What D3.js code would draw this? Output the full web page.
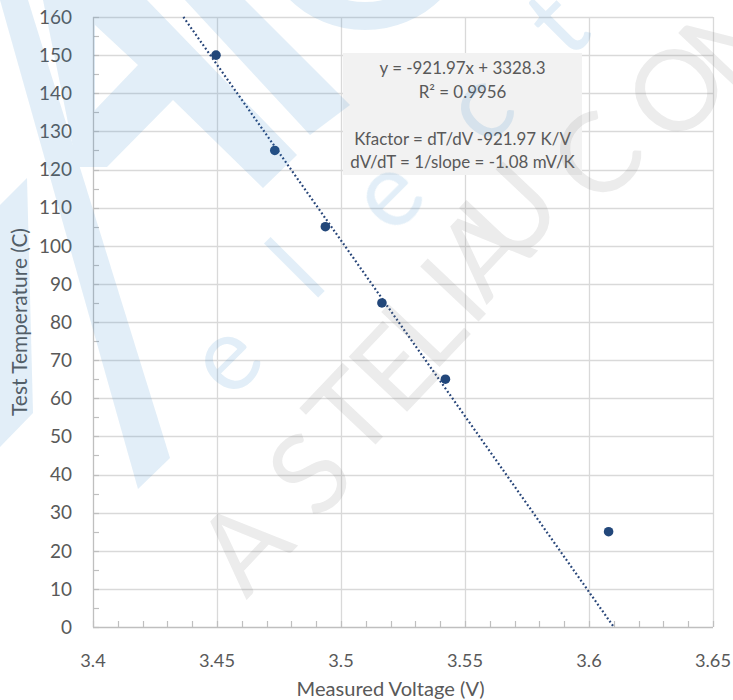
<!DOCTYPE html>
<html>
<head>
<meta charset="utf-8">
<script src="https://cdn.jsdelivr.net/npm/d3@7"></script>
<style>
  html, body { margin: 0; padding: 0; background: #fff; }
  svg { display: block; }
  text { font-family: Lato, "Open Sans", sans-serif; }
</style>
</head>
<body>
<script>
// ---------- data ----------
const voltage = [3.4496, 3.4733, 3.4937, 3.5165, 3.5421, 3.6079];
const temperature = [150, 125, 105, 85, 65, 25];
const trendSlope = -921.97;
const trendIntercept = 3328.3;
const xTicks = [3.4, 3.45, 3.5, 3.55, 3.6, 3.65];
const xTickLabels = ["3.4", "3.45", "3.5", "3.55", "3.6", "3.65"];
const yTicks = [0, 10, 20, 30, 40, 50, 60, 70, 80, 90, 100, 110, 120, 130, 140, 150, 160];
const annotationLines = ["y = -921.97x + 3328.3", "R\u00B2 = 0.9956", "", "Kfactor = dT/dV -921.97 K/V", "dV/dT = 1/slope = -1.08 mV/K"];
const xTitle = "Measured Voltage (V)";
const yTitle = "Test Temperature (C)";

// ---------- layout ----------
const W = 733, H = 700;
const M = { left: 93, right: 20, top: 17, bottom: 73 };
const iw = W - M.left - M.right, ih = H - M.top - M.bottom;

const svg = d3.select("body").append("svg").attr("width", W).attr("height", H);
const g = svg.append("g").attr("transform", `translate(${M.left},${M.top})`);

const x = d3.scaleLinear().domain([3.4, 3.65]).range([0, iw]);
const y = d3.scaleLinear().domain([0, 160]).range([ih, 0]);

const gridColor = "#d9d9d9", axisColor = "#bfbfbf", textColor = "#595959";

function fitSize(str, target, base) {
  const t = svg.append("text").attr("font-size", base).text(str);
  const w = t.node().getComputedTextLength();
  t.remove();
  return w > 0 ? base * target / w : base;
}
const yTickSize = fitSize("160", 33, 18);
const xTickSize = fitSize("3.45", 36, 18);
const xTitleSize = fitSize(xTitle, 188, 18);
const yTitleSize = fitSize(yTitle, 188, 18);
const boxSize = fitSize(annotationLines[0], 166, 16);

// gridlines
g.append("g").selectAll("line").data(yTicks.slice(1)).join("line")
  .attr("x1", 0).attr("x2", iw).attr("y1", d => Math.round(y(d)) + 0.5).attr("y2", d => Math.round(y(d)) + 0.5)
  .attr("stroke", gridColor).attr("stroke-width", 1.3);
g.append("g").selectAll("line").data(xTicks.slice(1)).join("line")
  .attr("y1", 0).attr("y2", ih).attr("x1", d => Math.round(x(d)) + 0.5).attr("x2", d => Math.round(x(d)) + 0.5)
  .attr("stroke", gridColor).attr("stroke-width", 1.3);

// minor ticks
const xMinor = d3.range(0, 26).map(i => 3.4 + i * 0.01);
const yMinor = d3.range(0, 33).map(i => i * 5);
g.append("g").selectAll("line").data(xMinor).join("line")
  .attr("x1", d => Math.round(x(d)) + 0.5).attr("x2", d => Math.round(x(d)) + 0.5)
  .attr("y1", ih).attr("y2", ih - 6).attr("stroke", axisColor).attr("stroke-width", 1.2);
g.append("g").selectAll("line").data(yMinor).join("line")
  .attr("y1", d => Math.round(y(d)) + 0.5).attr("y2", d => Math.round(y(d)) + 0.5)
  .attr("x1", 0).attr("x2", 6).attr("stroke", axisColor).attr("stroke-width", 1.2);

// axis lines
g.append("line").attr("x1", 0.5).attr("x2", 0.5).attr("y1", 0).attr("y2", ih + 0.5)
  .attr("stroke", axisColor).attr("stroke-width", 1.3);
g.append("line").attr("x1", 0).attr("x2", iw).attr("y1", ih + 0.5).attr("y2", ih + 0.5)
  .attr("stroke", axisColor).attr("stroke-width", 1.3);

// tick labels
g.append("g").selectAll("text").data(yTicks).join("text")
  .attr("x", -21).attr("y", d => y(d)).attr("dy", "0.36em")
  .attr("text-anchor", "end").attr("fill", textColor).attr("font-size", yTickSize)
  .text(d => d);
g.append("g").selectAll("text").data(xTicks).join("text")
  .attr("x", d => x(d)).attr("y", ih + 40)
  .attr("text-anchor", "middle").attr("fill", textColor).attr("font-size", xTickSize)
  .text((d, i) => xTickLabels[i]);

// axis titles
svg.append("text").attr("x", M.left + x(3.52)).attr("y", 696)
  .attr("text-anchor", "middle").attr("fill", textColor).attr("font-size", xTitleSize).text(xTitle);
svg.append("text").attr("transform", "translate(27,322) rotate(-90)")
  .attr("text-anchor", "middle").attr("fill", textColor).attr("font-size", yTitleSize).text(yTitle);

// annotation box
const box = g.append("g");
box.append("rect").attr("x", 343 - M.left).attr("y", 53 - M.top).attr("width", 239).attr("height", 122)
  .attr("fill", "#f2f2f2");
box.selectAll("text").data(annotationLines).join("text")
  .attr("x", 462.5 - M.left).attr("y", (d, i) => 74 - M.top + i * 23.5)
  .attr("text-anchor", "middle").attr("fill", textColor).attr("font-size", boxSize)
  .text(d => d);

// trendline (clipped to plot)
const xAt = t => (t - trendIntercept) / trendSlope;
const x0 = Math.max(3.4, xAt(160)), x1 = Math.min(3.65, xAt(0));
g.append("line")
  .attr("x1", x(x0)).attr("y1", y(trendSlope * x0 + trendIntercept))
  .attr("x2", x(x1)).attr("y2", y(trendSlope * x1 + trendIntercept))
  .attr("stroke", "#264478").attr("stroke-width", 2.2).attr("stroke-dasharray", "1.8,2.4");

// points
g.append("g").selectAll("circle").data(voltage).join("circle")
  .attr("cx", d => x(d)).attr("cy", (d, i) => y(temperature[i])).attr("r", 4.8)
  .attr("fill", "#22477a");

// ---------- watermark (overlay) ----------
const wm = svg.append("g").attr("opacity", 0.14).attr("fill", "#2e86c8");
const polys = [
  [[0,0],[28,0],[170,458],[138,489]],
  [[0,205],[27,178],[33,413],[0,447]],
  [[185,0],[245,0],[350,105],[310,135]]
];
wm.selectAll("path.p").data(polys).join("path").attr("class", "p")
  .attr("d", d => "M" + d.join("L") + "Z");
wm.append("path").attr("fill-rule", "evenodd")
  .attr("d", "M43,0L147,0L297,155L263,188L173,100L107,167L77,167Z M95,25L138,65L95,110Z");
wm.append("path").attr("fill-rule", "evenodd")
  .attr("d", d3.arc()({innerRadius: 81, outerRadius: 109, startAngle: 0, endAngle: 2 * Math.PI}))
  .attr("transform", "translate(365,-79)");

const wmBlue = [["e",231,364],["l",303,276],["e",393,200],["c",485,113],["t",563,30]];
wm.selectAll("text").data(wmBlue).join("text")
  .attr("transform", d => `translate(${d[1]},${d[2]}) rotate(-45)`)
  .attr("text-anchor", "middle").attr("dy", "0.25em").attr("font-size", 104)
  .text(d => d[0]);

const wmGray = [["A",243,545],["S",309,473],["T",350,413],["E",393,368],["L",423,326],["I",453,290],
                ["A",483,250],["U",510,212],["C",596,156],["O",676,90],["M",736,30]];
svg.append("g").attr("fill", "#7f7f7f").attr("opacity", 0.15)
  .selectAll("text").data(wmGray).join("text")
  .attr("transform", d => `translate(${d[1]},${d[2]}) rotate(-46.6)`)
  .attr("text-anchor", "middle").attr("dy", "0.36em").attr("font-size", 112)
  .text(d => d[0]);
</script>
</body>
</html>
